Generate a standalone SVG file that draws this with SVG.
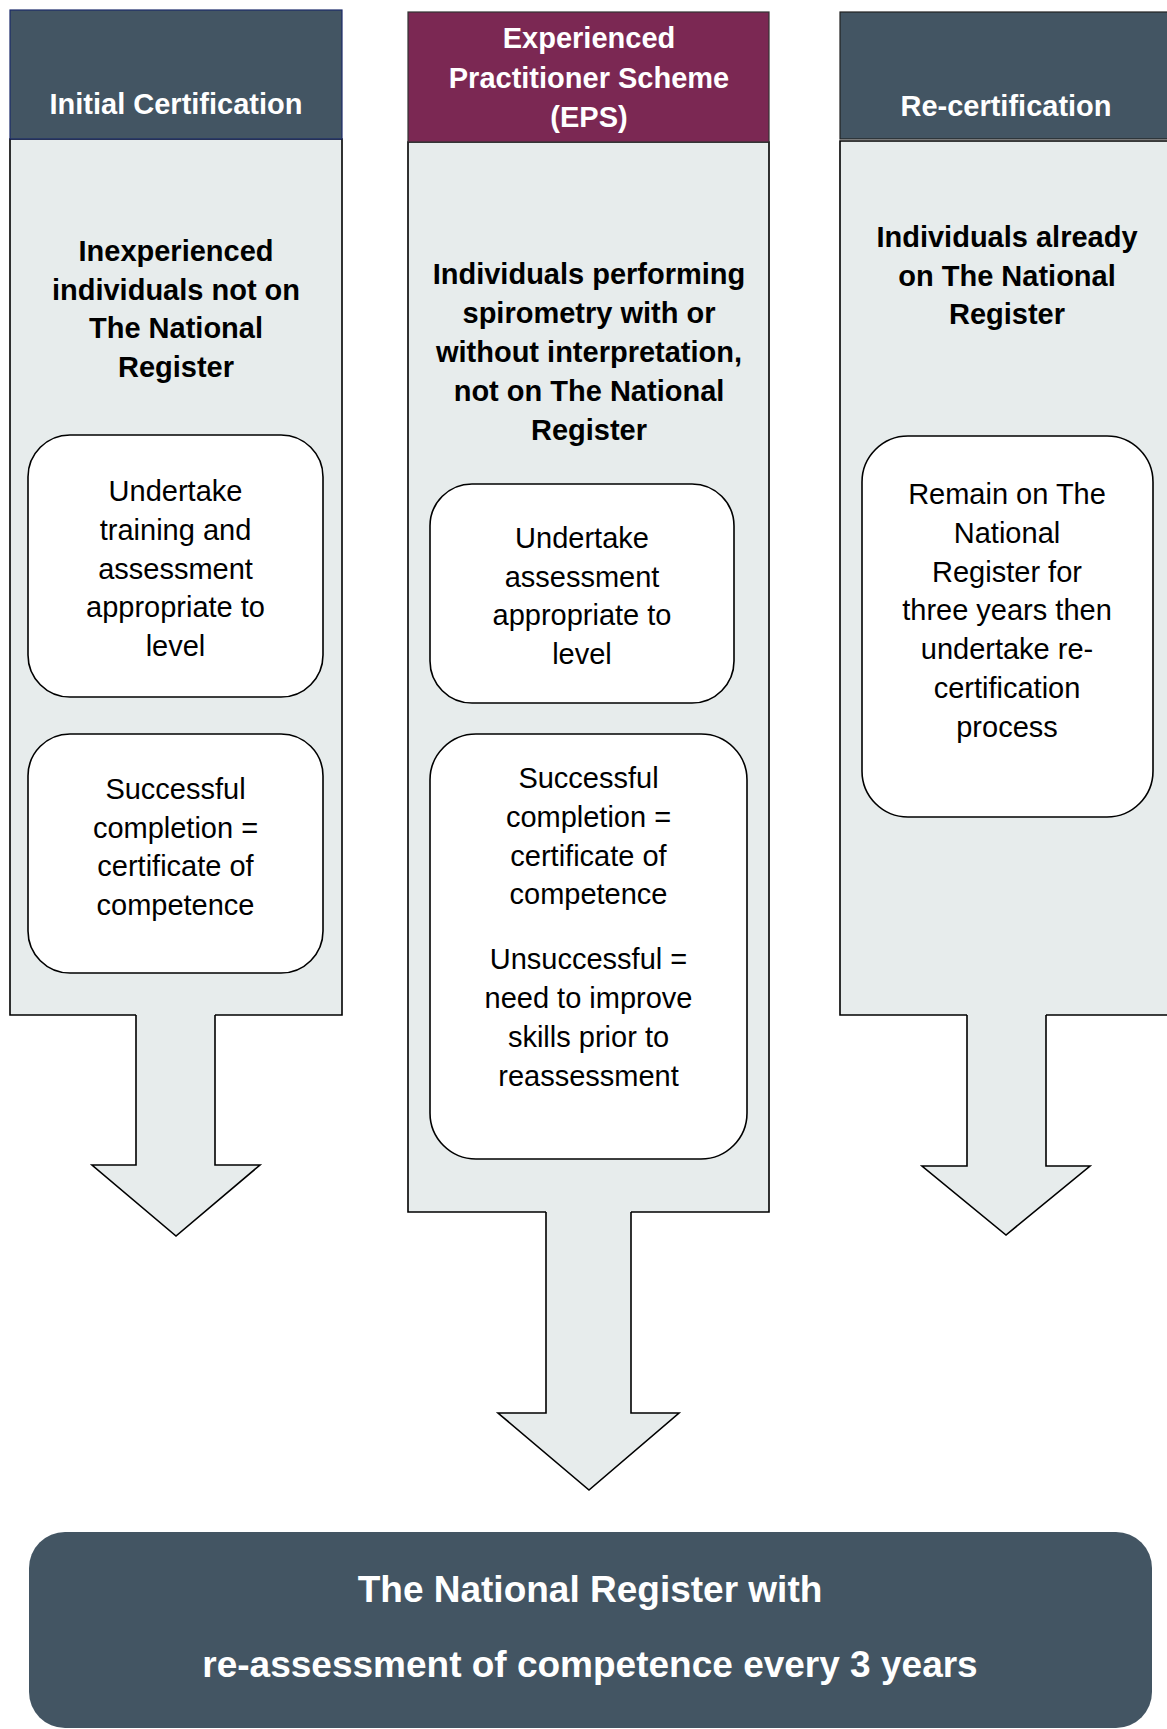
<svg xmlns="http://www.w3.org/2000/svg" width="1167" height="1729" viewBox="0 0 1167 1729">
<style>
.body{fill:#E7ECEC;stroke:none}
.outline{fill:none;stroke:#000;stroke-width:1.6}
.arrow{fill:#E7ECEC;stroke:#000;stroke-width:1.6;stroke-linejoin:miter}
.box{fill:#fff;stroke:#000;stroke-width:1.6}
.hdr{fill:#435563}
.eps{fill:#7B2853}
.ht{font-family:"Liberation Sans",Arial,sans-serif;font-weight:bold;font-size:29px;fill:#fff;text-anchor:middle}
.bt{font-family:"Liberation Sans",Arial,sans-serif;font-weight:bold;font-size:29px;fill:#000;text-anchor:middle}
.rt{font-family:"Liberation Sans",Arial,sans-serif;font-size:29px;fill:#000;text-anchor:middle}
.ft{font-family:"Liberation Sans",Arial,sans-serif;font-weight:bold;font-size:37px;fill:#fff;text-anchor:middle}
</style>
<rect width="1167" height="1729" fill="#fff"/>

<g id="panel-initial">
<rect class="body" x="10" y="139" width="332" height="876"/>
<path class="outline" d="M136,1015 H10 V139 H342 V1015 H215"/>
</g>
<g id="panel-eps">
<rect class="body" x="408" y="142" width="361" height="1070"/>
<path class="outline" d="M546,1212 H408 V142 H769 V1212 H631"/>
</g>
<g id="panel-recert">
<rect class="body" x="840" y="141" width="330" height="874"/>
<path class="outline" d="M967,1015 H840 V141 H1170 V1015 H1046"/>
</g>

<g id="connectors">
<path class="arrow" d="M136,1015 V1165 H92 L176,1236 L260,1165 H215 V1015"/>
<path class="arrow" d="M546,1212 V1413 H498 L589,1490 L679,1413 H631 V1212"/>
<path class="arrow" d="M967,1015 V1166 H922 L1006,1235 L1090,1166 H1046 V1015"/>
</g>

<g id="header-initial">
<rect class="hdr" x="10" y="10" width="332" height="129" stroke="#1c2a6a" stroke-width="1.2"/>
<text class="ht" x="176" y="114">Initial Certification</text>
</g>
<g id="header-eps">
<rect class="eps" x="408" y="12" width="361" height="130" stroke="#333" stroke-width="1.2"/>
<text class="ht" x="589" y="48">Experienced</text>
<text class="ht" x="589" y="88">Practitioner Scheme</text>
<text class="ht" x="589" y="127">(EPS)</text>
</g>
<g id="header-recert">
<rect class="hdr" x="840" y="12" width="330" height="127" stroke="#222" stroke-width="1.2"/>
<text class="ht" x="1006" y="116">Re-certification</text>
</g>

<g id="desc-initial">
<text class="bt" x="176" y="261">Inexperienced</text>
<text class="bt" x="176" y="300">individuals not on</text>
<text class="bt" x="176" y="338">The National</text>
<text class="bt" x="176" y="377">Register</text>
</g>
<g id="desc-eps">
<text class="bt" x="589" y="284">Individuals performing</text>
<text class="bt" x="589" y="323">spirometry with or</text>
<text class="bt" x="589" y="362">without interpretation,</text>
<text class="bt" x="589" y="401">not on The National</text>
<text class="bt" x="589" y="440">Register</text>
</g>
<g id="desc-recert">
<text class="bt" x="1007" y="247">Individuals already</text>
<text class="bt" x="1007" y="286">on The National</text>
<text class="bt" x="1007" y="324">Register</text>
</g>

<g id="box-initial-training">
<rect class="box" x="28" y="435" width="295" height="262" rx="42"/>
<text class="rt" x="175.5" y="501">Undertake</text>
<text class="rt" x="175.5" y="540">training and</text>
<text class="rt" x="175.5" y="579">assessment</text>
<text class="rt" x="175.5" y="617">appropriate to</text>
<text class="rt" x="175.5" y="656">level</text>
</g>
<g id="box-initial-completion">
<rect class="box" x="28" y="734" width="295" height="239" rx="42"/>
<text class="rt" x="175.5" y="799">Successful</text>
<text class="rt" x="175.5" y="838">completion =</text>
<text class="rt" x="175.5" y="876">certificate of</text>
<text class="rt" x="175.5" y="915">competence</text>
</g>
<g id="box-eps-assessment">
<rect class="box" x="430" y="484" width="304" height="219" rx="42"/>
<text class="rt" x="582" y="548">Undertake</text>
<text class="rt" x="582" y="587">assessment</text>
<text class="rt" x="582" y="625">appropriate to</text>
<text class="rt" x="582" y="664">level</text>
</g>
<g id="box-eps-outcome">
<rect class="box" x="430" y="734" width="317" height="425" rx="46"/>
<text class="rt" x="588.5" y="788">Successful</text>
<text class="rt" x="588.5" y="827">completion =</text>
<text class="rt" x="588.5" y="866">certificate of</text>
<text class="rt" x="588.5" y="904">competence</text>
<text class="rt" x="588.5" y="969">Unsuccessful =</text>
<text class="rt" x="588.5" y="1008">need to improve</text>
<text class="rt" x="588.5" y="1047">skills prior to</text>
<text class="rt" x="588.5" y="1086">reassessment</text>
</g>
<g id="box-recert-remain">
<rect class="box" x="862" y="436" width="291" height="381" rx="46"/>
<text class="rt" x="1007" y="504">Remain on The</text>
<text class="rt" x="1007" y="543">National</text>
<text class="rt" x="1007" y="582">Register for</text>
<text class="rt" x="1007" y="620">three years then</text>
<text class="rt" x="1007" y="659">undertake re-</text>
<text class="rt" x="1007" y="698">certification</text>
<text class="rt" x="1007" y="737">process</text>
</g>

<g id="national-register">
<rect class="hdr" x="29" y="1532" width="1123" height="196" rx="36"/>
<text class="ft" x="590" y="1602">The National Register with</text>
<text class="ft" x="590" y="1677">re-assessment of competence every 3 years</text>
</g>
</svg>
